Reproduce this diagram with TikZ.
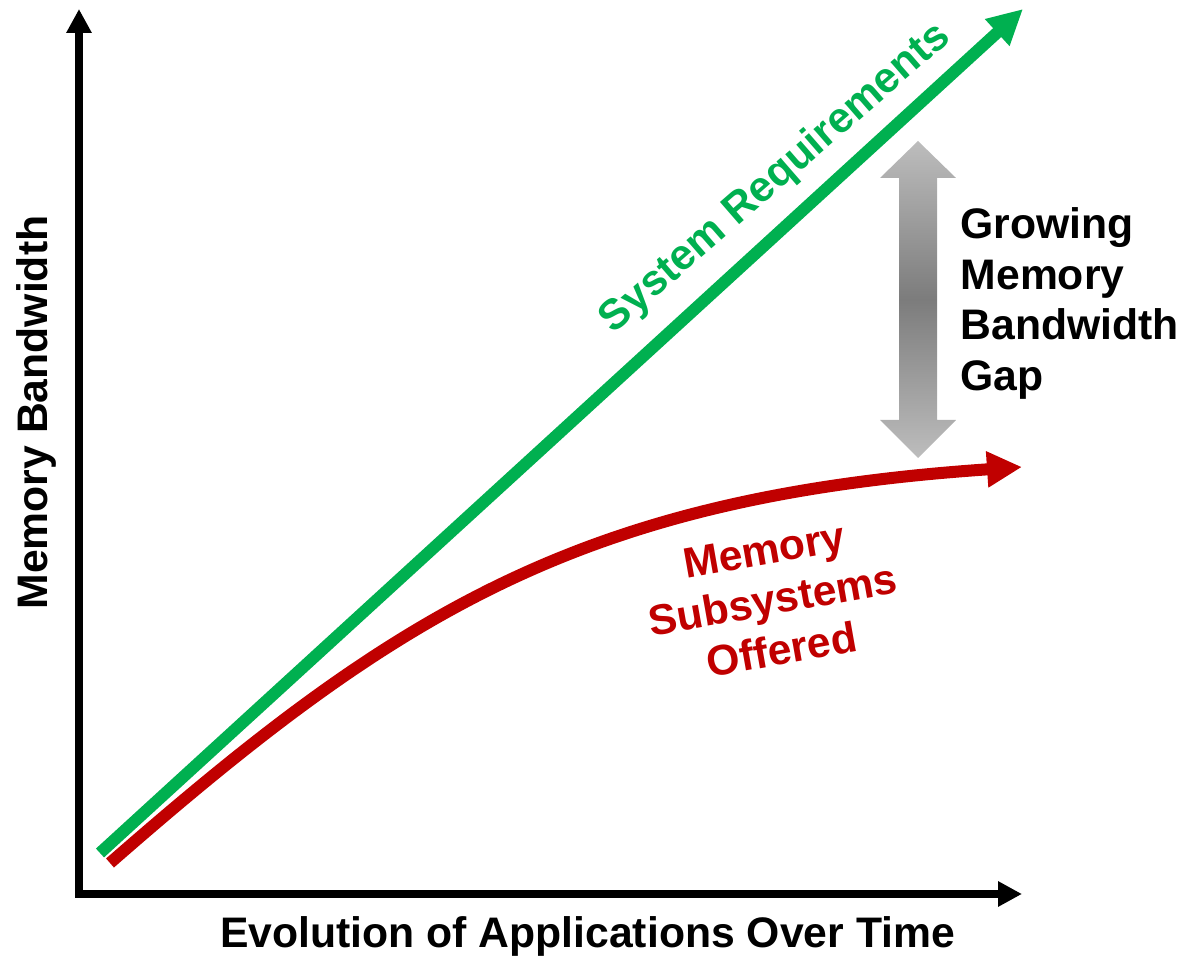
\documentclass[tikz,border=0pt]{standalone}
\usepackage{fontspec}
\setmainfont{Liberation Sans}
\usepackage{tikz}
\usetikzlibrary{arrows.meta}
\usetikzlibrary{calc}

\definecolor{reqgreen}{HTML}{00B050}
\definecolor{offred}{HTML}{C00000}
\definecolor{gaplight}{HTML}{BDBDBD}
\definecolor{gapdark}{HTML}{7C7C7C}

\begin{document}
\begin{tikzpicture}[
	axis/.style={line width=0.08cm, {Triangle[length=0.24cm,width=0.24cm]}-{Triangle[length=0.24cm,width=0.24cm]}},
	reqline/.style={reqgreen, line width=0.12cm, -{Triangle[length=0.35cm,width=0.34cm]}},
	offerline/.style={offred, line width=0.12cm, -{Triangle[length=0.35cm,width=0.34cm]}},
	gapbar/.style={top color=gaplight, bottom color=gaplight, middle color=gapdark, draw=none},
	lbl/.style={font=\fontsize{12.15}{14.4}\selectfont\bfseries, inner sep=0pt}
]
	%\draw[style=help lines,gray!50] (0,0) grid[step=0.5] (11.83,9.58);
	\useasboundingbox (0,0) rectangle (11.83,9.58);

	\coordinate (ytip) at (0.79,9.49);
	\coordinate (xtip) at (10.22,0.64);
	\coordinate (reqstart) at (1.00,1.05);
	\coordinate (reqend) at (10.23,9.49);
	\coordinate (offstart) at (1.10,0.95);
	\coordinate (offend) at (10.22,4.91);

	\draw[axis] (ytip) |- (xtip);

	\draw[reqline] (reqstart) -- (reqend);
	\draw[offerline] (offstart) .. controls (3.96,3.45) and (5.80,4.61) .. (offend);

	\path[gapbar] (9.18,8.17) -- (9.56,7.80) -- (9.37,7.80) -- (9.37,5.38) -- (9.56,5.38)
		-- (9.18,5.00) -- (8.80,5.38) -- (8.99,5.38) -- (8.99,7.80) -- (8.80,7.80) -- cycle;

	\node[lbl, anchor=north west, align=left] (gaplbl) at (9.60,7.51) {Growing\\Memory\\Bandwidth\\Gap};
	\node[lbl, offred, rotate=10, align=center] (offlbl) at (7.73,3.58) {Memory\\Subsystems\\Offered};
	\node[lbl, reqgreen, rotate=41, anchor=base] (reqlbl) at (7.83,7.71) {System Requirements};
	\node[lbl, rotate=90, anchor=base] (ylbl) at (0.47,5.455) {Memory Bandwidth};
	\node[lbl, anchor=base] (xlbl) at (5.875,0.10) {Evolution of Applications Over Time};
\end{tikzpicture}
\end{document}
